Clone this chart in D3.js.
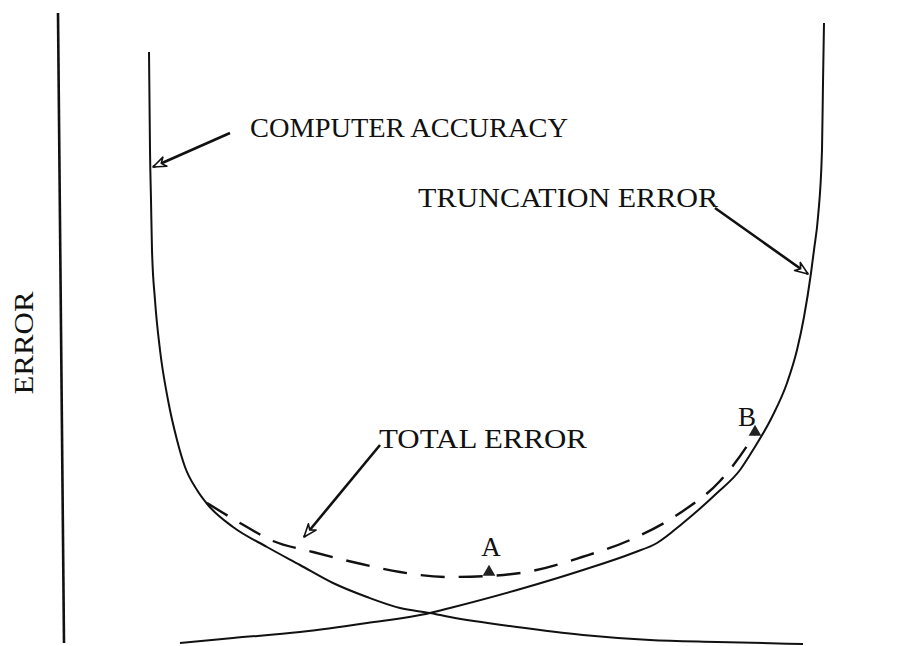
<!DOCTYPE html>
<html>
<head>
<meta charset="utf-8">
<script src="https://cdn.jsdelivr.net/npm/d3@7"></script>
<style>
  html, body { margin: 0; padding: 0; background: #fff; }
  svg { display: block; }
  .lbl { font-family: "Liberation Serif", "DejaVu Serif", serif; fill: #111; }
</style>
</head>
<body>
<svg id="chart" width="901" height="646"></svg>
<script>
// ---- data (abstract units: x = step size, y = error) ----
const computerAccuracy = [
  [89,593],[90,495],[91,445],[92,395],[95,345],[100,295],[108,245],[117,205],
  [125,178],[137,155],[148,140],[173,118],[207,98],[240,80],[273,62],[307,48],
  [340,37],[370,32],[390,28],[457,18],[523,10],[590,5],[657,3],[743,1]
];
const truncationError = [
  [120,2],[173,7],[240,13],[307,22],[370,32],[390,37],[457,55],[523,75],
  [573,92],[597,102],[623,122],[657,152],[680,175],[693,195],[712,228],
  [727,262],[737,295],[744,328],[751,372],[754,395],[758,428],[762,495],
  [763,562],[764,622]
];
const totalError = [
  [147,142],[180,122],[213,104],[253,93],[297,82],[340,73],[387,68],[429,69],
  [472,74],[522,88],[570,105],[620,132],[660,164],[687,199],[697,215]
];
const axisLine = [[-2,632],[4,2]];
const labels = [
  {text: "COMPUTER ACCURACY", x: 190, y: 508, len: 318},
  {text: "TRUNCATION ERROR",  x: 358, y: 438, len: 300},
  {text: "TOTAL ERROR",       x: 319, y: 197, len: 208}
];
const arrows = [
  {from: [170,512], to: [93,478]},
  {from: [655,437], to: [748,371]},
  {from: [320,200], to: [244,108]}
];
const points = [
  {name: "A", x: 429, y: 73, lx: 431, ly: 89},
  {name: "B", x: 695, y: 213, lx: 678, ly: 219}
];
const yLabel = "ERROR";

// ---- scales ----
const x = d3.scaleLinear().domain([0, 800]).range([60, 860]);
const y = d3.scaleLinear().domain([0, 640]).range([645, 5]);

const svg = d3.select("#chart");

const line = d3.line().x(d => x(d[0])).y(d => y(d[1])).curve(d3.curveMonotoneX);
const straight = d3.line().x(d => x(d[0])).y(d => y(d[1]));

// arrowhead marker
svg.append("defs").append("marker")
  .attr("id", "ah")
  .attr("viewBox", "-14 -7 16 14")
  .attr("refX", 0).attr("refY", 0)
  .attr("markerWidth", 16).attr("markerHeight", 14)
  .attr("markerUnits", "userSpaceOnUse")
  .attr("orient", "auto")
  .append("path")
  .attr("d", "M0,0 L-13,-5 L-9,0 L-13,5 Z")
  .attr("fill", "#fff").attr("stroke", "#111").attr("stroke-width", 1.6)
  .attr("stroke-linejoin", "round");

// vertical axis
svg.append("path").datum(axisLine).attr("d", straight)
  .attr("fill", "none").attr("stroke", "#111").attr("stroke-width", 2.6);

// curves
svg.append("path").datum(computerAccuracy).attr("d", line)
  .attr("fill", "none").attr("stroke", "#111").attr("stroke-width", 2);
svg.append("path").datum(truncationError).attr("d", line)
  .attr("fill", "none").attr("stroke", "#111").attr("stroke-width", 2);
svg.append("path").datum(totalError).attr("d", line)
  .attr("fill", "none").attr("stroke", "#111").attr("stroke-width", 2.4)
  .attr("stroke-dasharray", "24,14");

// arrows
svg.selectAll(".arrow").data(arrows).join("line")
  .attr("class", "arrow")
  .attr("x1", d => x(d.from[0])).attr("y1", d => y(d.from[1]))
  .attr("x2", d => x(d.to[0])).attr("y2", d => y(d.to[1]))
  .attr("stroke", "#111").attr("stroke-width", 2.6)
  .attr("marker-end", "url(#ah)");

// labels
svg.selectAll(".clbl").data(labels).join("text")
  .attr("class", "lbl clbl")
  .attr("x", d => x(d.x)).attr("y", d => y(d.y))
  .attr("font-size", 28)
  .attr("textLength", d => d.len).attr("lengthAdjust", "spacingAndGlyphs")
  .text(d => d.text);

// points A and B
svg.selectAll(".pt").data(points).join("path")
  .attr("class", "pt")
  .attr("transform", d => `translate(${x(d.x)},${y(d.y)})`)
  .attr("d", d3.symbol(d3.symbolTriangle, 70))
  .attr("fill", "#222");
svg.selectAll(".ptl").data(points).join("text")
  .attr("class", "lbl ptl")
  .attr("x", d => x(d.lx)).attr("y", d => y(d.ly))
  .attr("text-anchor", d => d.name === "A" ? "middle" : "start")
  .attr("font-size", 27)
  .text(d => d.name);

// y label
svg.append("text").attr("class", "lbl")
  .attr("transform", "translate(33,343) rotate(-90)")
  .attr("text-anchor", "middle")
  .attr("font-size", 28)
  .attr("textLength", 103).attr("lengthAdjust", "spacingAndGlyphs")
  .text(yLabel);
</script>
</body>
</html>
